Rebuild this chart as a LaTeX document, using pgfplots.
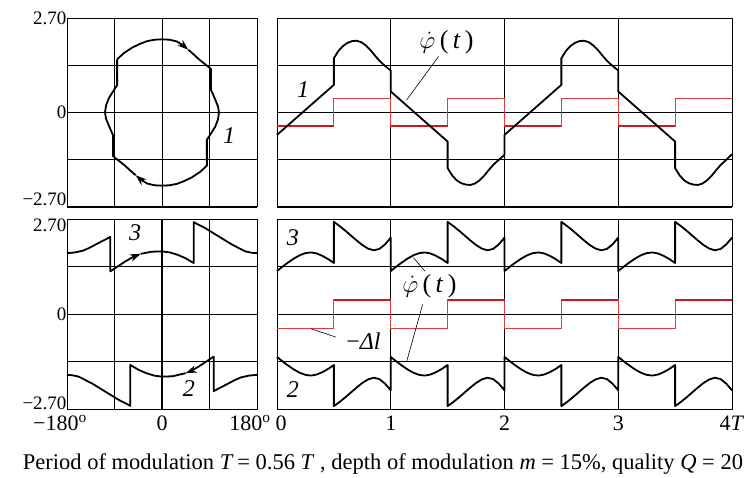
\documentclass[border=0pt]{standalone}
\usepackage{fontspec}
\setmainfont{Liberation Serif}
\usepackage{pgfplots}
\pgfplotsset{compat=1.18}
\usetikzlibrary{arrows.meta}
\definecolor{redthin}{RGB}{225,60,60}
\definecolor{redthick}{RGB}{205,25,25}
\tikzset{
  curve/.style={black, line width=1.8pt, line join=round},
  arr/.style={-{Stealth[length=11pt,width=7.5pt]}},
  lab/.style={font=\fontsize{24}{28}\selectfont\itshape},
  phi/.style={font=\fontsize{26}{30}\selectfont},
}
\newcommand{\up}[2]{\raisebox{#1}[\height][\depth]{#2}}
\pgfplotsset{
  panel/.style={scale only axis, clip=false,
    axis line style={line width=1pt},
    grid=major, grid style={black, line width=0.8pt},
    major tick length=0pt,
    ymin=-2.7, ymax=2.7, ytick={-2.7,-1.35,0,1.35,2.7},
    yticklabels={}, xticklabels={},
    yticklabel style={anchor=east, xshift=3pt, font=\fontsize{19}{22}\selectfont},
    xticklabel style={anchor=north, yshift=-3pt, font=\fontsize{22}{26}\selectfont},
  },
}
\begin{document}
\begin{tikzpicture}
\useasboundingbox (0,0) rectangle (746pt,477pt);
% ---------- top left ----------
\begin{axis}[panel, at={(67pt,270pt)}, anchor=south west, width=190pt, height=189pt,
  xmin=-180, xmax=180, xtick={-180,-90,0,90,180},
  yticklabels={\up{8pt}{−2.70},,0,,2.70}]
\addplot[curve, arr] coordinates {(-85,1.52) (-72,1.70) (-57,1.85) (-42,1.96) (-28,2.04) (-14,2.08) (0,2.09) (14,2.08) (28,2.03) (40,1.92) (50,1.79)};
\addplot[curve, arr] coordinates {(50,1.79) (60,1.66) (70,1.52) (80,1.40) (90,1.28) (93,1.24) (93,0.64) (100,0.40) (106,0.18) (108,0) (106,-0.20) (101,-0.40) (95,-0.55) (85,-0.78) (85,-1.52) (72,-1.70) (57,-1.85) (42,-1.96) (28,-2.04) (14,-2.08) (0,-2.09) (-14,-2.08) (-28,-2.03) (-40,-1.92) (-50,-1.79)};
\addplot[curve] coordinates {(-50,-1.79) (-60,-1.66) (-70,-1.52) (-80,-1.40) (-90,-1.28) (-93,-1.24) (-93,-0.64) (-100,-0.40) (-106,-0.18) (-108,0) (-106,0.20) (-101,0.40) (-95,0.55) (-85,0.78) (-85,1.52)};
\node[lab] at (axis cs:127,-0.67) {1};
\end{axis}
% ---------- top right ----------
\begin{axis}[panel, at={(277pt,270pt)}, anchor=south west, width=455pt, height=189pt,
  xmin=0, xmax=4, xtick={0,1,2,3,4}]
\addplot[redthin, line width=1pt, const plot] coordinates {(0,-0.4) (0.5,0.41) (1,-0.4) (1.5,0.41) (2,-0.4) (2.5,0.41) (3,-0.4) (3.5,0.41) (4,0.41)};
\addplot[redthick, line width=2pt, unbounded coords=jump] coordinates {(0,-0.4) (0.5,-0.4) (0.75,nan) (1,-0.4) (1.5,-0.4) (1.75,nan) (2,-0.4) (2.5,-0.4) (2.75,nan) (3,-0.4) (3.5,-0.4)};
\addplot[curve] coordinates {(0,-0.64) (0.5,0.79) (0.5,1.55) (0.54,1.76) (0.58,1.9) (0.62,1.99) (0.66,2.04) (0.7,2.05) (0.74,2.01) (0.78,1.92) (0.82,1.79) (0.86,1.63) (0.9,1.48) (0.95,1.33) (1.0,1.2) (1.0,0.6) (1.5,-0.83) (1.5,-1.59) (1.54,-1.8) (1.58,-1.94) (1.62,-2.02) (1.66,-2.06) (1.7,-2.07) (1.74,-2.03) (1.78,-1.94) (1.82,-1.81) (1.86,-1.65) (1.9,-1.5) (1.95,-1.35) (2.0,-1.21) (2.0,-0.64)
 (2.5,0.79) (2.5,1.55) (2.54,1.76) (2.58,1.9) (2.62,1.99) (2.66,2.04) (2.7,2.05) (2.74,2.01) (2.78,1.92) (2.82,1.79) (2.86,1.63) (2.9,1.48) (2.95,1.33) (3.0,1.2) (3.0,0.6) (3.5,-0.83) (3.5,-1.59) (3.54,-1.8) (3.58,-1.94) (3.62,-2.02) (3.66,-2.06) (3.7,-2.07) (3.74,-2.03) (3.78,-1.94) (3.82,-1.81) (3.86,-1.65) (3.9,-1.5) (3.95,-1.35) (4.0,-1.19)};
\node[lab] at (axis cs:0.23,0.65) {1};
\node[phi] at (axis cs:1.49,2.02) {$\dot{\varphi}$\,(\,\textit{t}\,)};
\draw[black, line width=0.6pt] (axis cs:1.42,1.6) -- (axis cs:1.14,0.36);
\end{axis}
% ---------- bottom left ----------
\begin{axis}[panel, at={(67pt,68pt)}, anchor=south west, width=190pt, height=190pt,
  xmin=-180, xmax=180, xtick={-180,-90,0,90,180},
  yticklabels={\up{6pt}{−2.70},,0,,\up{-6pt}{2.70}},
  xticklabels={\hspace*{-14pt}−180\textsuperscript{o},,0,,\hspace*{-14pt}180\textsuperscript{o}}]
\addplot[black, line width=1.8pt] coordinates {(0,-2.7) (0,2.7)};
\addplot[curve, arr] coordinates {(-180,1.73) (-165,1.75) (-150,1.80) (-139,1.87) (-120,2.02) (-98,2.19) (-98,1.21) (-85,1.34) (-70,1.49) (-55,1.62) (-40,1.71)};
\addplot[curve] coordinates {(-40,1.71) (-20,1.77) (0,1.78) (15,1.75) (30,1.68) (44,1.59) (60,1.45) (60,2.61) (82,2.44) (108,2.20) (133,1.97) (158,1.78) (170,1.74) (180,1.73)};
\addplot[curve, arr] coordinates {(180,-1.73) (165,-1.75) (150,-1.80) (139,-1.87) (120,-2.02) (98,-2.19) (98,-1.21) (85,-1.34) (70,-1.49) (55,-1.62) (45,-1.68)};
\addplot[curve] coordinates {(45,-1.68) (20,-1.77) (0,-1.78) (-15,-1.75) (-30,-1.68) (-44,-1.59) (-60,-1.45) (-60,-2.61) (-82,-2.44) (-108,-2.20) (-133,-1.97) (-158,-1.78) (-170,-1.74) (-180,-1.73)};
\node[lab] at (axis cs:-51,2.3) {3};
\node[lab] at (axis cs:51,-2.13) {2};
\end{axis}
% ---------- bottom right ----------
\begin{axis}[panel, at={(277pt,68pt)}, anchor=south west, width=455pt, height=190pt,
  xmin=0, xmax=4, xtick={0,1,2,3,4},
  xticklabels={\hspace*{8pt}0,1,2,3,4\textit{T}}]
\addplot[redthin, line width=1pt, const plot] coordinates {(0,-0.4) (0.5,0.41) (1,-0.4) (1.5,0.41) (2,-0.4) (2.5,0.41) (3,-0.4) (3.5,0.41) (4,0.41)};
\addplot[redthick, line width=2pt, unbounded coords=jump] coordinates {(0.5,0.41) (1,0.41) (1.25,nan) (1.5,0.41) (2,0.41) (2.25,nan) (2.5,0.41) (3,0.41) (3.25,nan) (3.5,0.41) (4,0.41)};
\addplot[curve] coordinates {
 (0,1.22) (0.05,1.35) (0.1,1.47) (0.15,1.58) (0.2,1.67) (0.25,1.73) (0.3,1.75) (0.35,1.72) (0.4,1.65) (0.45,1.56) (0.5,1.45) (0.5,2.62) (0.55,2.5) (0.6,2.37) (0.65,2.23) (0.7,2.09) (0.75,1.96) (0.8,1.86) (0.85,1.81) (0.9,1.85) (0.95,1.98) (1,2.17)
 (1,1.22) (1.05,1.35) (1.1,1.47) (1.15,1.58) (1.2,1.67) (1.25,1.73) (1.3,1.75) (1.35,1.72) (1.4,1.65) (1.45,1.56) (1.5,1.45) (1.5,2.62) (1.55,2.5) (1.6,2.37) (1.65,2.23) (1.7,2.09) (1.75,1.96) (1.8,1.86) (1.85,1.81) (1.9,1.85) (1.95,1.98) (2,2.17)
 (2,1.22) (2.05,1.35) (2.1,1.47) (2.15,1.58) (2.2,1.67) (2.25,1.73) (2.3,1.75) (2.35,1.72) (2.4,1.65) (2.45,1.56) (2.5,1.45) (2.5,2.62) (2.55,2.5) (2.6,2.37) (2.65,2.23) (2.7,2.09) (2.75,1.96) (2.8,1.86) (2.85,1.81) (2.9,1.85) (2.95,1.98) (3,2.17)
 (3,1.22) (3.05,1.35) (3.1,1.47) (3.15,1.58) (3.2,1.67) (3.25,1.73) (3.3,1.75) (3.35,1.72) (3.4,1.65) (3.45,1.56) (3.5,1.45) (3.5,2.62) (3.55,2.5) (3.6,2.37) (3.65,2.23) (3.7,2.09) (3.75,1.96) (3.8,1.86) (3.85,1.81) (3.9,1.85) (3.95,1.98) (4,2.17)};
\addplot[curve] coordinates {
 (0,-1.22) (0.05,-1.35) (0.1,-1.47) (0.15,-1.58) (0.2,-1.67) (0.25,-1.73) (0.3,-1.75) (0.35,-1.72) (0.4,-1.65) (0.45,-1.56) (0.5,-1.45) (0.5,-2.62) (0.55,-2.5) (0.6,-2.37) (0.65,-2.23) (0.7,-2.09) (0.75,-1.96) (0.8,-1.86) (0.85,-1.81) (0.9,-1.85) (0.95,-1.98) (1,-2.17)
 (1,-1.22) (1.05,-1.35) (1.1,-1.47) (1.15,-1.58) (1.2,-1.67) (1.25,-1.73) (1.3,-1.75) (1.35,-1.72) (1.4,-1.65) (1.45,-1.56) (1.5,-1.45) (1.5,-2.62) (1.55,-2.5) (1.6,-2.37) (1.65,-2.23) (1.7,-2.09) (1.75,-1.96) (1.8,-1.86) (1.85,-1.81) (1.9,-1.85) (1.95,-1.98) (2,-2.17)
 (2,-1.22) (2.05,-1.35) (2.1,-1.47) (2.15,-1.58) (2.2,-1.67) (2.25,-1.73) (2.3,-1.75) (2.35,-1.72) (2.4,-1.65) (2.45,-1.56) (2.5,-1.45) (2.5,-2.62) (2.55,-2.5) (2.6,-2.37) (2.65,-2.23) (2.7,-2.09) (2.75,-1.96) (2.8,-1.86) (2.85,-1.81) (2.9,-1.85) (2.95,-1.98) (3,-2.17)
 (3,-1.22) (3.05,-1.35) (3.1,-1.47) (3.15,-1.58) (3.2,-1.67) (3.25,-1.73) (3.3,-1.75) (3.35,-1.72) (3.4,-1.65) (3.45,-1.56) (3.5,-1.45) (3.5,-2.62) (3.55,-2.5) (3.6,-2.37) (3.65,-2.23) (3.7,-2.09) (3.75,-1.96) (3.8,-1.86) (3.85,-1.81) (3.9,-1.85) (3.95,-1.98) (4,-2.17)};
\node[lab] at (axis cs:0.14,2.17) {3};
\node[lab] at (axis cs:0.14,-2.16) {2};
\node[phi] at (axis cs:1.34,0.79) {$\dot{\varphi}$\,(\,\textit{t}\,)};
\draw[black, line width=0.6pt] (axis cs:1.3,1.22) -- (axis cs:1.2,1.6);
\draw[black, line width=0.6pt] (axis cs:1.28,0.27) -- (axis cs:1.14,-1.35);
\draw[black, line width=0.6pt] (axis cs:0.3,-0.42) -- (axis cs:0.52,-0.66);
\node[font=\fontsize{24}{28}\selectfont] at (axis cs:0.76,-0.78) {−\textit{Δl}};
\end{axis}
\node[anchor=base, font=\fontsize{22.5}{26}\selectfont] at (383pt,8pt) {Period of modulation \textit{T}\,= 0.56 \textit{T} , depth of modulation \textit{m} = 15\%, quality \textit{Q} = 20};
\end{tikzpicture}
\end{document}
